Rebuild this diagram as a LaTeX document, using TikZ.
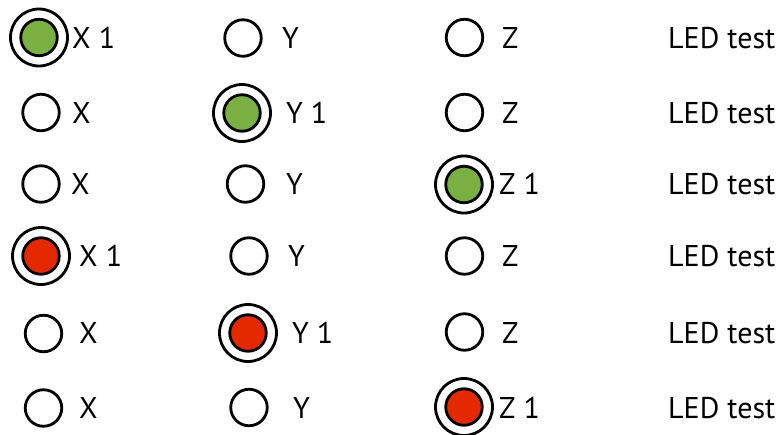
\documentclass[tikz,border=0pt]{standalone}
\usepackage{fontspec}
\setmainfont{PT Sans}
\definecolor{ledgreen}{RGB}{122,175,66}
\definecolor{ledred}{RGB}{228,40,0}
\begin{document}
\begin{tikzpicture}[x=1pt,y=-1pt,
 led/.style={circle,draw=black,line width=2.8pt,minimum size=36.5pt,inner sep=0pt},
 ring/.style={circle,draw=black,line width=2.8pt,minimum size=57pt,inner sep=0pt},
 lbl/.style={anchor=base west,inner sep=0pt,font=\fontsize{30}{32}\selectfont}]
\useasboundingbox (0,0) rectangle (782,434);
% row 1
\node[ring] (r1x) at (39,37.5) {};
\node[led,fill=ledgreen] (r1xi) at (r1x.center) {};
\node[lbl] (t1x) at (72,48) {X 1};
\node[led] (r1y) at (243,38) {};
\node[lbl] (t1y) at (282,48) {Y};
\node[led] (r1z) at (464.5,37.5) {};
\node[lbl] (t1z) at (502,48) {Z};
\node[lbl] (t1) at (668,48) {LED test};
% row 2
\node[led] (r2x) at (41,112.5) {};
\node[lbl] (t2x) at (72,123) {X};
\node[ring] (r2y) at (242,113) {};
\node[led,fill=ledgreen] (r2yi) at (r2y.center) {};
\node[lbl] (t2y) at (286,123) {Y 1};
\node[led] (r2z) at (464.5,112.5) {};
\node[lbl] (t2z) at (502,123) {Z};
\node[lbl] (t2) at (668,123) {LED test};
% row 3
\node[led] (r3x) at (41,184) {};
\node[lbl] (t3x) at (71,194.5) {X};
\node[led] (r3y) at (245.5,184) {};
\node[lbl] (t3y) at (286,194.5) {Y};
\node[ring] (r3z) at (464,184.5) {};
\node[led,fill=ledgreen] (r3zi) at (r3z.center) {};
\node[lbl] (t3z) at (499,194.5) {Z 1};
\node[lbl] (t3) at (668,194.5) {LED test};
% row 4
\node[ring] (r4x) at (41,256) {};
\node[led,fill=ledred] (r4xi) at (r4x.center) {};
\node[lbl] (t4x) at (79,266.5) {X 1};
\node[led] (r4y) at (249,256) {};
\node[lbl] (t4y) at (288,266.5) {Y};
\node[led] (r4z) at (464.5,256) {};
\node[lbl] (t4z) at (502,266.5) {Z};
\node[lbl] (t4) at (668,266.5) {LED test};
% row 5
\node[led] (r5x) at (43.5,333.5) {};
\node[lbl] (t5x) at (79,343.5) {X};
\node[ring] (r5y) at (248,333) {};
\node[led,fill=ledred] (r5yi) at (r5y.center) {};
\node[lbl] (t5y) at (292,343.5) {Y 1};
\node[led] (r5z) at (464.5,332) {};
\node[lbl] (t5z) at (502,343.5) {Z};
\node[lbl] (t5) at (668,343.5) {LED test};
% row 6
\node[led] (r6x) at (43.5,408) {};
\node[lbl] (t6x) at (79,418.5) {X};
\node[led] (r6y) at (249,407.5) {};
\node[lbl] (t6y) at (293,418.5) {Y};
\node[ring] (r6z) at (464,407) {};
\node[led,fill=ledred] (r6zi) at (r6z.center) {};
\node[lbl] (t6z) at (499,418.5) {Z 1};
\node[lbl] (t6) at (668,418.5) {LED test};
\end{tikzpicture}
\end{document}
